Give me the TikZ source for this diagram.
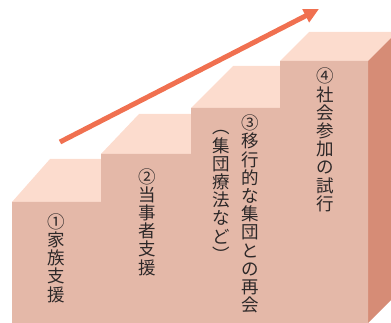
\documentclass[tikz,border=0pt]{standalone}
\usepackage{fontspec}
\usetikzlibrary{arrows.meta}
\newfontfamily\jp{Noto Sans CJK JP}
\definecolor{frontc}{RGB}{228,184,168}
\definecolor{topc}{RGB}{252,220,206}
\definecolor{sidec}{RGB}{214,140,118}
\definecolor{arrowc}{RGB}{240,112,80}
\definecolor{txtc}{RGB}{45,40,40}
\begin{document}
\begin{tikzpicture}[x=1pt,y=-1pt,
  vtext/.style={align=center, inner sep=0pt, text=txtc, font=\jp\fontsize{17.5}{18.2}\selectfont},
  topface/.style={fill=topc, draw=none},
  frontface/.style={fill=frontc, draw=none},
  sideface/.style={fill=sidec, draw=none},
  bigarrow/.style={draw=arrowc, line width=5pt, -{Triangle[length=15pt,width=14pt]}}]
\useasboundingbox (0,0) rectangle (391,323);
\clip (0,0) rectangle (391,323);
% top faces
\fill[topface] (12,202) -- (50,159) -- (139,159) -- (101,202) -- cycle;
\fill[topface] (101,154) -- (139,114) -- (229,114) -- (191,154) -- cycle;
\fill[topface] (191,108) -- (233,66) -- (322,66) -- (280,108) -- cycle;
\fill[topface] (280,61) -- (309,32) -- (397,32) -- (368,61) -- cycle;
% right side face
\fill[sideface] (368,61) -- (397,32) -- (397,294) -- (368,323) -- cycle;
% front face
\fill[frontface] (12,323) -- (12,202) -- (101,202) -- (101,154) -- (191,154)
  -- (191,108) -- (280,108) -- (280,61) -- (368,61) -- (368,323) -- cycle;
% arrow
\coordinate (a0) at (60,142);
\coordinate (a1) at (319,9);
\draw[bigarrow] (a0) -- (a1);
% texts
\node[vtext] (t1) at (56,258) {①\\家\\族\\支\\援};
\node[vtext] (t2) at (147,222) {②\\当\\事\\者\\支\\援};
\node[vtext] (t3) at (250,214) {③\\移\\行\\的\\な\\集\\団\\と\\の\\再\\会};
\node[vtext] (t3b) at (221,196) {︵\\集\\団\\療\\法\\な\\ど\\︶};
\node[vtext] (t4) at (325,140) {④\\社\\会\\参\\加\\の\\試\\行};
\end{tikzpicture}
\end{document}
